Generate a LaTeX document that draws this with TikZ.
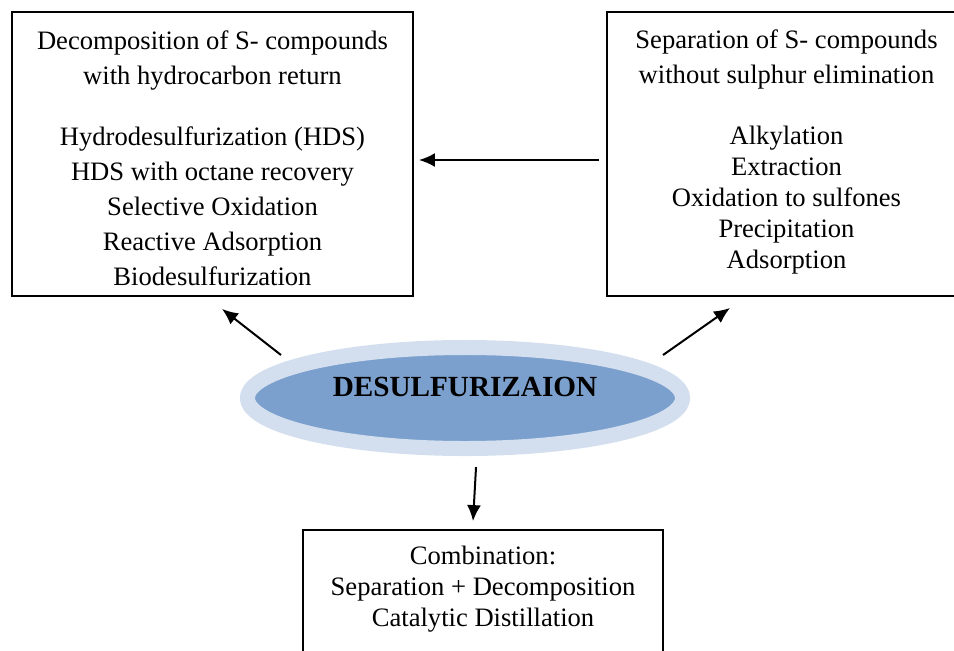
\documentclass[tikz,border=0pt]{standalone}
\usepackage{fontspec}
\setmainfont{Liberation Serif}
\usepackage{tikz}
\usepackage{xcolor}
\usetikzlibrary{arrows.meta,shapes.geometric}

\definecolor{ringblue}{HTML}{D3DFEE}
\definecolor{coreblue}{HTML}{7BA0CD}

\begin{document}
\begin{tikzpicture}[scale=0.1757, align=center]
            \tikzstyle{every node}+=[inner sep=0pt]
            \tikzstyle{box}=[draw=black, line width=0.9pt, rectangle]
            \tikzstyle{arrow}=[black, line width=1pt, -{Latex[length=8pt,width=7pt]}]
            \useasboundingbox (0,0) rectangle (95.4,-65);
            \node [box, minimum width=200.5pt, minimum height=142pt] (lbox) at (21.25,-15.4) {};
            \node [font=\fontsize{13.3pt}{17.5pt}\selectfont] (ltxt) at (21.25,-15.85) {Decomposition of S- compounds\\with hydrocarbon return\\[13pt]Hydrodesulfurization (HDS)\\HDS with octane recovery\\Selective Oxidation\\Reactive Adsorption\\Biodesulfurization};
            \node [box, minimum width=179.5pt, minimum height=142pt] (rbox) at (78.65,-15.4) {};
            \node [font=\fontsize{13.3pt}{15.5pt}\selectfont] (rtxt) at (78.65,-15.2) {Separation of S- compounds\\[2pt]without sulphur elimination\\[15pt]Alkylation\\Extraction\\Oxidation to sulfones\\Precipitation\\Adsorption};
            \node [box, minimum width=180pt, minimum height=70pt] (bbox) at (48.3,-60) {};
            \node [font=\fontsize{13.3pt}{15.5pt}\selectfont] (btxt) at (48.3,-58.9) {Combination:\\Separation + Decomposition\\Catalytic Distillation};
            \node [ellipse, draw=ringblue, line width=7.5pt, fill=coreblue, minimum width=217.5pt, minimum height=50.5pt] (desul) at (46.5,-39.8) {};
            \node [font=\fontsize{14.6pt}{17pt}\selectfont\bfseries] (deslab) at (46.5,-38.7) {DESULFURIZAION};
            \draw [arrow] ([shift={(-0.7,-0.6)}]rbox.west) -- ([shift={(0.5,-0.6)}]lbox.east);
            \draw [arrow] ([shift={(-18.4,4.3)}]desul.center) -- ([shift={(0.95,-1.2)}]lbox.south);
            \draw [arrow] ([shift={(19.8,4.3)}]desul.center) -- ([shift={(-5.65,-1.1)}]rbox.south);
            \draw [arrow] ([shift={(1.1,-1.1)}]desul.south) -- ([shift={(-1,0.8)}]bbox.north);
        \end{tikzpicture}
\end{document}
